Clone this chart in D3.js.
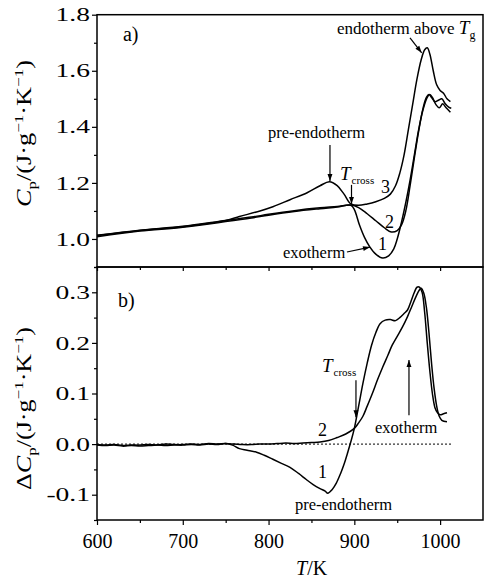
<!DOCTYPE html>
<html><head><meta charset="utf-8">
<script src="https://cdn.jsdelivr.net/npm/d3@7"></script>
<style>
body{margin:0;background:#fff;}
svg text{font-family:"Liberation Serif","Times New Roman",serif;}
</style></head>
<body><svg id="c" width="491" height="578"></svg>
<script>
// ---------- DATA ----------
// Panel a: Cp (J g^-1 K^-1) vs T (K)
const aCurve1T = [600,650,700,750,780,800,830,860,880,896,900,906,912,918,925,933,940,946,950,955,960,965,970,975,980,985,988,991,995,999,1003,1007,1012];
const aCurve1V = [1.008,1.028,1.042,1.062,1.075,1.085,1.098,1.108,1.114,1.12,1.105,1.05,1.005,0.972,0.946,0.932,0.94,0.965,1.0,1.06,1.13,1.21,1.30,1.39,1.46,1.505,1.515,1.505,1.48,1.468,1.482,1.468,1.452];
const aCurve2T = [600,650,700,750,780,800,830,860,880,896,905,915,925,935,943,950,955,960,965,970,975,980,984,987,990,994,998,1002,1006,1010,1013];
const aCurve2V = [1.013,1.031,1.045,1.066,1.078,1.088,1.101,1.111,1.116,1.121,1.112,1.09,1.065,1.04,1.025,1.03,1.05,1.10,1.19,1.29,1.385,1.465,1.505,1.515,1.505,1.49,1.495,1.50,1.482,1.47,1.466];
const aCurve3T = [600,650,700,750,766,790,805,825,845,860,871,880,888,896,905,915,925,935,942,948,953,958,963,968,973,978,982,985,988,992,996,1000,1004,1008,1012];
const aCurve3V = [1.012,1.030,1.044,1.066,1.08,1.10,1.115,1.14,1.165,1.19,1.204,1.19,1.16,1.125,1.12,1.125,1.133,1.145,1.16,1.19,1.235,1.30,1.39,1.48,1.57,1.64,1.675,1.682,1.66,1.60,1.55,1.53,1.52,1.50,1.49];

// Panel b: delta Cp vs T
const bCurve1T = [600,610,620,630,640,650,660,670,680,690,700,710,720,730,740,750,758,766,775,786,795,805,815,825,835,844,852,860,866,869,874,879,884,888,892,896,900,905,910,915,920,925,930,936,942,948,953,958,962,966,970,973,976,979,982,985,988,991,994,997,1000,1004,1008];
const bCurve1V = [-0.002,-0.003,-0.002,-0.004,-0.003,-0.004,-0.003,-0.002,-0.003,-0.002,-0.002,-0.001,-0.002,0.000,-0.001,0.001,-0.002,-0.009,-0.012,-0.016,-0.022,-0.030,-0.038,-0.046,-0.058,-0.070,-0.080,-0.088,-0.093,-0.097,-0.090,-0.077,-0.058,-0.040,-0.018,0.005,0.031,0.075,0.120,0.160,0.195,0.220,0.238,0.245,0.246,0.244,0.250,0.258,0.265,0.282,0.300,0.310,0.310,0.300,0.260,0.200,0.145,0.100,0.072,0.062,0.058,0.060,0.062];
const bCurve2T = [600,610,620,630,640,650,660,670,680,690,700,710,720,730,740,750,760,770,780,790,800,810,820,830,840,850,860,870,880,890,900,905,910,915,921,927,933,939,944,950,956,962,967,972,976,978,981,984,987,990,993,996,999,1002,1008];
const bCurve2V = [-0.001,-0.002,-0.001,-0.003,-0.002,-0.002,-0.001,-0.002,0.000,-0.001,-0.001,0.000,-0.001,0.001,0.000,0.001,0.000,-0.001,-0.001,0.000,0.000,0.001,0.002,0.001,0.002,0.003,0.004,0.007,0.013,0.020,0.031,0.042,0.055,0.075,0.100,0.127,0.152,0.175,0.195,0.213,0.231,0.252,0.272,0.292,0.305,0.308,0.298,0.270,0.220,0.160,0.110,0.075,0.055,0.047,0.044];

const xTicksMajor = [600,700,800,900,1000];
const xTicksMinor = [650,750,850,950];
const aTicksMajor = [1.0,1.2,1.4,1.6,1.8];
const aTicksMinor = [0.9,1.1,1.3,1.5,1.7];
const aTickLabels = ["1.0","1.2","1.4","1.6","1.8"];
const bTicksMajor = [-0.1,0.0,0.1,0.2,0.3];
const bTicksMinor = [-0.15,-0.05,0.05,0.15,0.25,0.35];
const bTickLabels = ["-0.1","0.0","0.1","0.2","0.3"];

// ---------- LAYOUT ----------
const FONT = '"Liberation Serif","Times New Roman",serif';
const svg = d3.select("#c").attr("font-family",FONT);
const L = 97, R = 483;
const aTop = 14.7, aBot = 267, bTop = 267, bBot = 520;
const x = d3.scaleLinear().domain([600,1050]).range([L,R]);
const ya = d3.scaleLinear().domain([0.9,1.8]).range([aBot,aTop]);
const yb = d3.scaleLinear().domain([-0.15,0.35]).range([bBot,bTop]);

const line = (ys) => d3.line().x(d=>x(d[0])).y(d=>ys(d[1])).curve(d3.curveCatmullRom.alpha(0.5));
const zip = (a,b) => a.map((t,i)=>[t,b[i]]);

svg.append("defs").append("marker").attr("id","ah").attr("viewBox","0 0 10 10")
  .attr("refX",10).attr("refY",5).attr("markerWidth",9).attr("markerHeight",7)
  .attr("markerUnits","userSpaceOnUse").attr("orient","auto")
  .append("path").attr("d","M0,1.5 L10,5 L0,8.5 Z").attr("fill","#000");

// ---------- AXES ----------
function drawTicks(g, axis){ g.call(axis); g.select(".domain").remove(); g.selectAll("line").attr("stroke","#000").attr("stroke-width",1.2); g.selectAll("text").remove(); }

drawTicks(svg.append("g").attr("transform",`translate(${L},0)`), d3.axisLeft(ya).tickValues(aTicksMajor).tickSize(5));
drawTicks(svg.append("g").attr("transform",`translate(${L},0)`), d3.axisLeft(ya).tickValues(aTicksMinor).tickSize(3));
drawTicks(svg.append("g").attr("transform",`translate(0,${aBot})`), d3.axisBottom(x).tickValues(xTicksMajor).tickSize(4));
drawTicks(svg.append("g").attr("transform",`translate(0,${aBot})`), d3.axisBottom(x).tickValues(xTicksMinor).tickSize(3));
drawTicks(svg.append("g").attr("transform",`translate(${L},0)`), d3.axisLeft(yb).tickValues(bTicksMajor).tickSize(5));
drawTicks(svg.append("g").attr("transform",`translate(${L},0)`), d3.axisLeft(yb).tickValues(bTicksMinor).tickSize(3));
const xb = svg.append("g").attr("transform",`translate(0,${bBot})`).call(d3.axisBottom(x).tickValues(xTicksMajor).tickSize(5).tickPadding(9).tickFormat(d3.format("d")));
xb.attr("font-family",FONT).attr("font-size",20);
xb.select(".domain").remove();
xb.selectAll("line").attr("stroke","#000").attr("stroke-width",1.2);
xb.selectAll("text").attr("fill","#000");
drawTicks(svg.append("g").attr("transform",`translate(0,${bBot})`), d3.axisBottom(x).tickValues(xTicksMinor).tickSize(3));

function yLabels(vals, labels, ys){
  vals.forEach((v,i)=>{
    svg.append("g").attr("transform",`translate(90,${ys(v)}) scale(1.45,1)`)
      .append("text").attr("text-anchor","end").attr("dy","0.35em").attr("font-size",19).text(labels[i]);
  });
}
yLabels(aTicksMajor, aTickLabels, ya);
yLabels(bTicksMajor, bTickLabels, yb);

[[aTop,aBot],[bTop,bBot]].forEach(([t,b])=>{
  svg.append("rect").attr("x",L).attr("y",t).attr("width",R-L).attr("height",b-t)
    .attr("fill","none").attr("stroke","#000").attr("stroke-width",1.5);
});

// ---------- CURVES ----------
const curveStyle = p => p.attr("fill","none").attr("stroke","#000").attr("stroke-width",1.5).attr("stroke-linejoin","round");
[[aCurve1T,aCurve1V],[aCurve2T,aCurve2V],[aCurve3T,aCurve3V]].forEach(([t,v])=>{
  svg.append("path").attr("d",line(ya)(zip(t,v))).call(curveStyle);
});
svg.append("line").attr("x1",x(600)).attr("x2",x(1015)).attr("y1",yb(0)).attr("y2",yb(0))
  .attr("stroke","#000").attr("stroke-width",1).attr("stroke-dasharray","2,2");
[[bCurve1T,bCurve1V],[bCurve2T,bCurve2V]].forEach(([t,v])=>{
  svg.append("path").attr("d",line(yb)(zip(t,v))).call(curveStyle);
});

// ---------- ANNOTATIONS ----------
function arrow(ys, t1,v1,t2,v2){
  svg.append("line").attr("x1",x(t1)).attr("y1",ys(v1)).attr("x2",x(t2)).attr("y2",ys(v2))
    .attr("stroke","#000").attr("stroke-width",1.2).attr("marker-end","url(#ah)");
}
function txt(ys,t,v,s,size){
  return svg.append("text").attr("x",x(t)).attr("y",ys(v)).attr("font-size",size||16).text(s);
}
function tcross(ys,t,v){
  const e = svg.append("text").attr("x",x(t)).attr("y",ys(v)).attr("font-size",19);
  e.append("tspan").attr("font-style","italic").text("T");
  e.append("tspan").attr("font-size",11).attr("dy",4).attr("dx",1).text("cross");
}
txt(ya,630.3,1.706,"a)",20);
const endo = txt(ya,879.8,1.731,"endotherm above ",17);
endo.append("tspan").attr("font-style","italic").attr("font-size",19).text("T");
endo.append("tspan").attr("font-size",12).attr("dy",5).text("g");
arrow(ya,964.9,1.717,978.5,1.664);
txt(ya,799.3,1.360,"pre-endotherm",16.5);
arrow(ya,871.6,1.335,871.6,1.207);
tcross(ya,883.3,1.210);
arrow(ya,896.7,1.193,896.7,1.125);
txt(ya,931.1,1.164,"3",18);
txt(ya,935.7,1.039,"2",18);
txt(ya,927.6,0.961,"1",18);
txt(ya,816.8,0.932,"exotherm",16.5);
arrow(ya,891.4,0.9535,918.3,0.971);
txt(yb,624.5,0.270,"b)",20);
tcross(yb,862.3,0.142);
arrow(yb,901.9,0.126,901.9,0.053);
txt(yb,924.1,0.022,"exotherm",16.5);
arrow(yb,963.7,0.057,963.7,0.166);
txt(yb,857.6,0.016,"2",18);
txt(yb,857.6,-0.067,"1",18);
txt(yb,830.8,-0.130,"pre-endotherm",16.5);

// ---------- AXIS TITLES ----------
function yTitle(cy, target, delta){
  const g = svg.append("g");
  const t = g.append("text").attr("text-anchor","middle").attr("font-size",20);
  if(delta) t.append("tspan").text("\u0394");
  t.append("tspan").attr("font-style","italic").text("C");
  t.append("tspan").attr("font-size",13).attr("dy",5).text("p");
  t.append("tspan").attr("dy",-5).text("/(J\u00B7g");
  t.append("tspan").attr("font-size",13).attr("dy",-8).text("\u22121");
  t.append("tspan").attr("dy",8).text("\u00B7K");
  t.append("tspan").attr("font-size",13).attr("dy",-8).text("\u22121");
  t.append("tspan").attr("dy",8).text(")");
  const w = t.node().getBBox().width;
  g.attr("transform",`translate(31,${cy}) rotate(-90) scale(${target/w},1)`);
}
yTitle(133.5,147,false);
yTitle(408.5,163,true);

const xt = svg.append("text").attr("x",296).attr("y",575).attr("font-size",20);
xt.append("tspan").attr("font-style","italic").text("T");
xt.append("tspan").text("/K");
</script></body></html>
